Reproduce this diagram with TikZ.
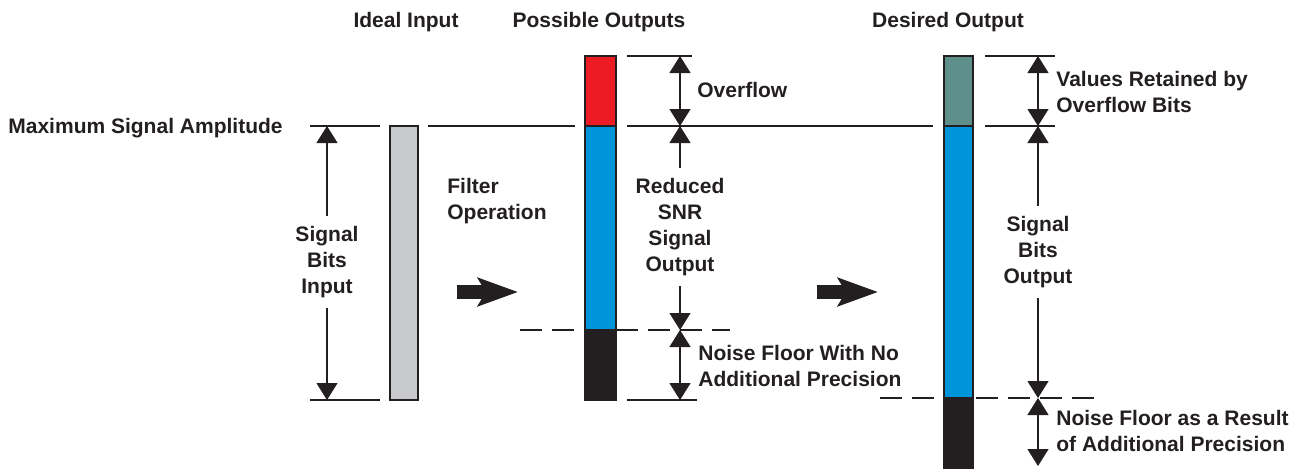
\documentclass[tikz,border=0pt]{standalone}
\usepackage{fontspec}
\setmainfont{Liberation Sans}
\usetikzlibrary{arrows.meta}
\definecolor{ovred}{RGB}{237,28,36}
\definecolor{sigblue}{RGB}{0,149,218}
\definecolor{keepteal}{RGB}{95,143,138}
\definecolor{ingray}{RGB}{200,201,202}
\definecolor{floorblk}{RGB}{35,31,32}
\tikzset{
  bar/.style={draw=floorblk,line width=0.6pt},
  ext/.style={line width=0.6pt,floorblk},
  dashln/.style={ext,dash pattern=on 11pt off 5pt},
  dim/.style={line width=0.6pt,floorblk,>={Triangle[length=8.5pt,width=10.5pt]}},
  lab/.style={font=\fontsize{10.5}{13}\selectfont\bfseries,inner sep=0pt,text=floorblk},
  gap/.style={lab,align=center,inner ysep=5pt},
  fat/.style={line width=7pt,floorblk,-{Stealth[length=20pt,width=14pt,inset=4pt]}},
  every picture/.style={x=0.5pt,y=-0.5pt}
}
\begin{document}
\begin{tikzpicture}
  \useasboundingbox (0,0) rectangle (1297,468);
  % titles
  \foreach \x/\t [count=\k] in {406/Ideal Input,599/Possible Outputs,948/Desired Output}
    \node[lab] (ttl\k) at (\x,22) {\t};
  \node[lab,anchor=west] (maxamp) at (8,128) {Maximum Signal Amplitude};
  % extension lines
  \draw[ext] (310,126) -- (380,126) (428,126) -- (575,126) (627,126) -- (933,126) (985,126) -- (1055,126);
  \draw[ext] (627,56) -- (692,56) (985,56) -- (1055,56);
  \draw[ext] (310,400) -- (380,400) (627,400) -- (697,400);
  \draw[dashln] (520,330) -- (730,330);
  \draw[dashln] (880,398) -- (1095,398);
  % bars
  \draw[bar,fill=ingray] (390,126) rectangle (418,400);
  \draw[bar,fill=ovred] (585,56) rectangle (616,126);
  \draw[bar,fill=sigblue] (585,126) rectangle (616,330);
  \draw[bar,fill=floorblk] (585,330) rectangle (616,400);
  \draw[bar,fill=keepteal] (944,56) rectangle (973,126);
  \draw[bar,fill=sigblue] (944,126) rectangle (973,398);
  \draw[bar,fill=floorblk] (944,398) rectangle (973,472);
  % input dimension
  \coordinate (sTop) at (327,126); \coordinate (sBot) at (327,400);
  \node[gap] (sTxt) at (327,262) {Signal\\Bits\\Input};
  \draw[dim,<-] (sTop) -- (sTxt); \draw[dim,->] (sTxt) -- (sBot);
  % possible output dimensions
  \coordinate (mTop) at (680,56); \coordinate (mMax) at (680,126);
  \coordinate (mFl) at (680,330); \coordinate (mBot) at (680,400);
  \node[gap] (rTxt) at (680,227) {Reduced\\SNR\\Signal\\Output};
  \draw[dim,<->] (mTop) -- (mMax);
  \draw[dim,<-] (mMax) -- (rTxt); \draw[dim,->] (rTxt) -- (mFl);
  \draw[dim,<->] (mFl) -- (mBot);
  \node[lab,anchor=west] (ovf) at (697,90) {Overflow};
  \node[lab,anchor=west,align=left] (nfNo) at (698,366) {Noise Floor With No\\Additional Precision};
  % desired output dimensions
  \coordinate (dTop) at (1038,56); \coordinate (dMax) at (1038,126);
  \coordinate (dFl) at (1038,398); \coordinate (dBot) at (1038,466);
  \node[gap] (dTxt) at (1038,252) {Signal\\Bits\\Output};
  \draw[dim,<->] (dTop) -- (dMax);
  \draw[dim,<-] (dMax) -- (dTxt); \draw[dim,->] (dTxt) -- (dFl);
  \draw[dim,<->] (dFl) -- (dBot);
  \node[lab,anchor=west,align=left] (kept) at (1056,92) {Values Retained by\\Overflow Bits};
  \node[lab,anchor=west,align=left] (nfAdd) at (1056,431) {Noise Floor as a Result\\of Additional Precision};
  % filter step
  \node[lab,anchor=west,align=left] (filt) at (447,201) {Filter\\Operation};
  \coordinate (f1s) at (457,292); \coordinate (f1e) at (518,292);
  \coordinate (f2s) at (817,292); \coordinate (f2e) at (878,292);
  \draw[fat] (f1s) -- (f1e);
  \draw[fat] (f2s) -- (f2e);
\end{tikzpicture}
\end{document}
